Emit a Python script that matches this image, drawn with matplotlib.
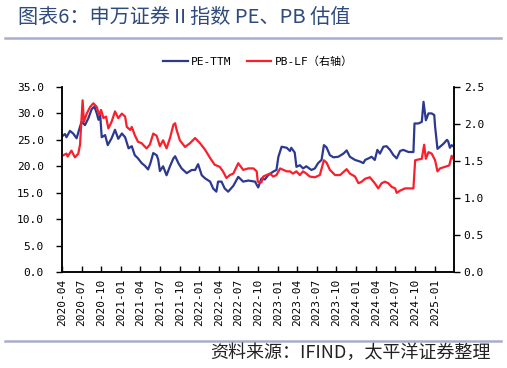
import matplotlib
matplotlib.use('Agg')
import matplotlib.pyplot as plt
import matplotlib.dates as mdates
from matplotlib.lines import Line2D
import numpy as np
import pandas as pd

# PE-TTM (左轴)
pe_dates = ['2020-04-02', '2020-04-15', '2020-04-22', '2020-05-08', '2020-05-23', '2020-06-08',
            '2020-06-24', '2020-07-01', '2020-07-17', '2020-08-02', '2020-08-17', '2020-08-30',
            '2020-09-10', '2020-09-18', '2020-09-26', '2020-10-03', '2020-10-19', '2020-10-31',
            '2020-11-18', '2020-12-04', '2020-12-19', '2021-01-05', '2021-01-20', '2021-02-05',
            '2021-02-20', '2021-03-06', '2021-03-21', '2021-04-07', '2021-04-22', '2021-05-07',
            '2021-05-18', '2021-05-31', '2021-06-16', '2021-06-23', '2021-07-01', '2021-07-16',
            '2021-08-01', '2021-08-17', '2021-09-02', '2021-09-10', '2021-09-25', '2021-10-10',
            '2021-11-03', '2021-11-26', '2021-12-12', '2021-12-26', '2022-01-12', '2022-01-28',
            '2022-02-20', '2022-03-06', '2022-03-21', '2022-03-29', '2022-04-14', '2022-04-29',
            '2022-05-15', '2022-06-08', '2022-07-01', '2022-07-24', '2022-08-17', '2022-09-17',
            '2022-10-02', '2022-10-17', '2022-11-02', '2022-11-17', '2022-12-11', '2022-12-26',
            '2023-01-04', '2023-01-19', '2023-02-12', '2023-02-27', '2023-03-05', '2023-03-21',
            '2023-03-29', '2023-04-14', '2023-04-29', '2023-05-14', '2023-06-07', '2023-06-23',
            '2023-07-08', '2023-07-24', '2023-08-04', '2023-08-16', '2023-09-01', '2023-09-17',
            '2023-10-10', '2023-11-03', '2023-11-18', '2023-12-03', '2023-12-27', '2024-01-19',
            '2024-02-04', '2024-02-12', '2024-02-28', '2024-03-13', '2024-03-28', '2024-04-09',
            '2024-04-21', '2024-05-07', '2024-05-22', '2024-06-07', '2024-06-23', '2024-07-08',
            '2024-07-24', '2024-08-08', '2024-09-01', '2024-09-24', '2024-09-29', '2024-10-17',
            '2024-11-02', '2024-11-10', '2024-11-21', '2024-12-03', '2024-12-18', '2024-12-30',
            '2025-01-03', '2025-01-14', '2025-01-26', '2025-02-12', '2025-02-27', '2025-03-05',
            '2025-03-13', '2025-03-21', '2025-03-31']
pe_vals = [25.7, 26.1, 25.5, 26.7, 26.2, 25.3,
           27.5, 28.4, 27.8, 29.1, 30.8, 31.3,
           30.0, 28.8, 29.7, 25.5, 25.9, 24.0,
           25.3, 26.9, 25.2, 26.2, 25.5, 23.4,
           23.8, 22.1, 21.5, 20.6, 20.1, 19.4,
           20.6, 22.5, 22.1, 21.3, 19.1, 20.0,
           18.3, 20.0, 21.5, 21.9, 20.6, 19.6,
           18.7, 19.3, 19.3, 20.4, 18.3, 17.7,
           17.1, 15.8, 15.2, 17.1, 17.1, 15.8,
           15.2, 16.3, 18.0, 17.1, 17.3, 17.1,
           16.0, 17.7, 17.5, 18.3, 19.0, 19.3,
           21.8, 23.7, 23.5, 22.9, 23.5, 22.6,
           19.9, 20.2, 19.6, 20.0, 19.3, 19.6,
           20.6, 21.2, 24.0, 23.6, 22.1, 21.7,
           21.8, 22.4, 23.0, 21.8, 21.2, 20.9,
           20.6, 21.2, 21.5, 21.8, 21.2, 23.1,
           22.4, 23.7, 23.8, 23.1, 22.1, 21.5,
           22.9, 23.1, 22.7, 22.7, 28.1, 28.1,
           28.4, 32.2, 28.7, 30.0, 30.0, 29.7,
           27.5, 23.3, 23.7, 24.3, 25.0, 24.7,
           23.5, 24.0, 23.7]

# PB-LF (右轴)
pb_dates = ['2020-04-02', '2020-04-22', '2020-04-27', '2020-05-15', '2020-05-31', '2020-06-16',
            '2020-06-24', '2020-07-06', '2020-07-12', '2020-07-25', '2020-08-10', '2020-08-25',
            '2020-09-10', '2020-09-21', '2020-09-30', '2020-10-11', '2020-10-23', '2020-11-03',
            '2020-11-18', '2020-12-04', '2020-12-19', '2021-01-05', '2021-01-20', '2021-01-28',
            '2021-02-13', '2021-02-20', '2021-03-06', '2021-03-21', '2021-04-07', '2021-04-30',
            '2021-05-15', '2021-05-31', '2021-06-16', '2021-07-01', '2021-07-16', '2021-08-01',
            '2021-08-17', '2021-09-02', '2021-09-10', '2021-09-17', '2021-10-02', '2021-10-26',
            '2021-11-18', '2021-12-12', '2022-01-04', '2022-01-28', '2022-02-20', '2022-03-13',
            '2022-04-06', '2022-04-21', '2022-05-07', '2022-05-23', '2022-06-08', '2022-07-01',
            '2022-07-24', '2022-08-17', '2022-09-10', '2022-09-25', '2022-09-30', '2022-10-17',
            '2022-10-25', '2022-11-10', '2022-11-25', '2022-12-11', '2022-12-26', '2023-01-12',
            '2023-01-27', '2023-02-12', '2023-02-27', '2023-03-13', '2023-03-29', '2023-04-14',
            '2023-04-29', '2023-05-14', '2023-05-30', '2023-06-23', '2023-07-16', '2023-08-04',
            '2023-08-16', '2023-09-01', '2023-09-25', '2023-10-18', '2023-11-18', '2023-12-03',
            '2023-12-27', '2024-01-12', '2024-01-27', '2024-02-12', '2024-03-05', '2024-03-28',
            '2024-04-13', '2024-04-29', '2024-05-14', '2024-05-30', '2024-06-15', '2024-07-01',
            '2024-07-08', '2024-07-24', '2024-08-16', '2024-09-09', '2024-09-24', '2024-10-02',
            '2024-10-17', '2024-11-02', '2024-11-13', '2024-11-21', '2024-12-03', '2024-12-18',
            '2025-01-03', '2025-01-14', '2025-01-26', '2025-02-27', '2025-03-10', '2025-03-21',
            '2025-03-31']
pb_vals = [1.57, 1.60, 1.56, 1.64, 1.55, 1.60,
           1.72, 2.32, 2.03, 2.14, 2.23, 2.28,
           2.23, 2.12, 2.19, 2.08, 2.10, 1.94,
           2.03, 2.17, 2.08, 2.14, 2.10, 1.96,
           1.92, 1.96, 1.85, 1.76, 1.74, 1.67,
           1.72, 1.87, 1.84, 1.70, 1.78, 1.67,
           1.81, 1.99, 2.01, 1.92, 1.78, 1.69,
           1.74, 1.81, 1.74, 1.65, 1.54, 1.45,
           1.42, 1.36, 1.27, 1.31, 1.33, 1.47,
           1.38, 1.40, 1.40, 1.36, 1.22, 1.21,
           1.29, 1.31, 1.33, 1.29, 1.31, 1.40,
           1.38, 1.36, 1.36, 1.33, 1.36, 1.31,
           1.36, 1.33, 1.29, 1.28, 1.31, 1.51,
           1.48, 1.38, 1.31, 1.31, 1.39, 1.33,
           1.29, 1.20, 1.22, 1.26, 1.28, 1.20,
           1.13, 1.20, 1.22, 1.20, 1.15, 1.13,
           1.07, 1.10, 1.13, 1.13, 1.13, 1.51,
           1.52, 1.53, 1.72, 1.53, 1.62, 1.60,
           1.51, 1.36, 1.40, 1.43, 1.44, 1.57,
           1.52]

x_ticks = pd.date_range('2020-04-01', '2025-01-01', freq='3MS')
left_ticks = np.arange(0, 35.1, 5)
right_ticks = np.arange(0, 2.51, 0.5)

blue = '#2b3990'
red = '#f7202c'
mono = ['DejaVu Sans Mono', 'Noto Sans CJK SC']
cjk = ['Noto Sans CJK SC', 'DejaVu Sans']

W, H = 507, 368
fig = plt.figure(figsize=(W / 100, H / 100), dpi=100)
ax = fig.add_axes([62 / W, 1 - 272 / H, (454 - 62) / W, (272 - 87) / H])
ax2 = ax.twinx()

l1, = ax.plot(pd.to_datetime(pe_dates), pe_vals, color=blue, lw=1.6, label='PE-TTM')
l2, = ax2.plot(pd.to_datetime(pb_dates), pb_vals, color=red, lw=1.6, label='PB-LF（右轴）')

ax.set_xlim(pd.Timestamp('2020-04-01'), pd.Timestamp('2025-04-01'))
ax.set_ylim(0, 35)
ax2.set_ylim(0, 2.5)
ax.set_yticks(left_ticks)
ax.set_yticklabels(['%.1f' % v for v in left_ticks], family=mono, fontsize=8)
ax2.set_yticks(right_ticks)
ax2.set_yticklabels(['%.1f' % v for v in right_ticks], family=mono, fontsize=8)
ax.set_xticks(x_ticks)
ax.set_xticklabels([d.strftime('%Y-%m') for d in x_ticks], rotation=90, family=mono, fontsize=8)

ax.tick_params(axis='x', direction='in', length=4, width=1, pad=5)
ax.tick_params(axis='y', direction='out', length=4, width=1, pad=9)
ax2.tick_params(axis='y', direction='out', length=4, width=1, pad=3)
for a in (ax, ax2):
    a.spines['top'].set_visible(False)
    for s in ('left', 'right', 'bottom'):
        a.spines[s].set_linewidth(1.1)

fig.legend(handles=[l1, l2], loc='center', bbox_to_anchor=(258 / W, 1 - 62 / H), ncol=2,
           frameon=False, prop={'family': mono, 'size': 8}, handlelength=2.2,
           handletextpad=0.3, columnspacing=1.4)

# 标题和来源
fig.text(18 / W, 1 - 17 / H, '图表6：申万证券Ⅱ指数 PE、PB 估值', family=cjk, fontsize=14.5,
         color='#2f4a7c', ha='left', va='center')
fig.add_artist(Line2D([5 / W, 501 / W], [1 - 37.5 / H] * 2, color='#a9adcb', lw=1.8))
fig.add_artist(Line2D([5 / W, 501 / W], [1 - 341 / H] * 2, color='#a9adcb', lw=1.8))
fig.text(490 / W, 1 - 353 / H, '资料来源：IFIND，太平洋证券整理', family=cjk, fontsize=13,
         color='#222222', ha='right', va='center', style='italic')

fig.savefig('out.png', dpi=100)
